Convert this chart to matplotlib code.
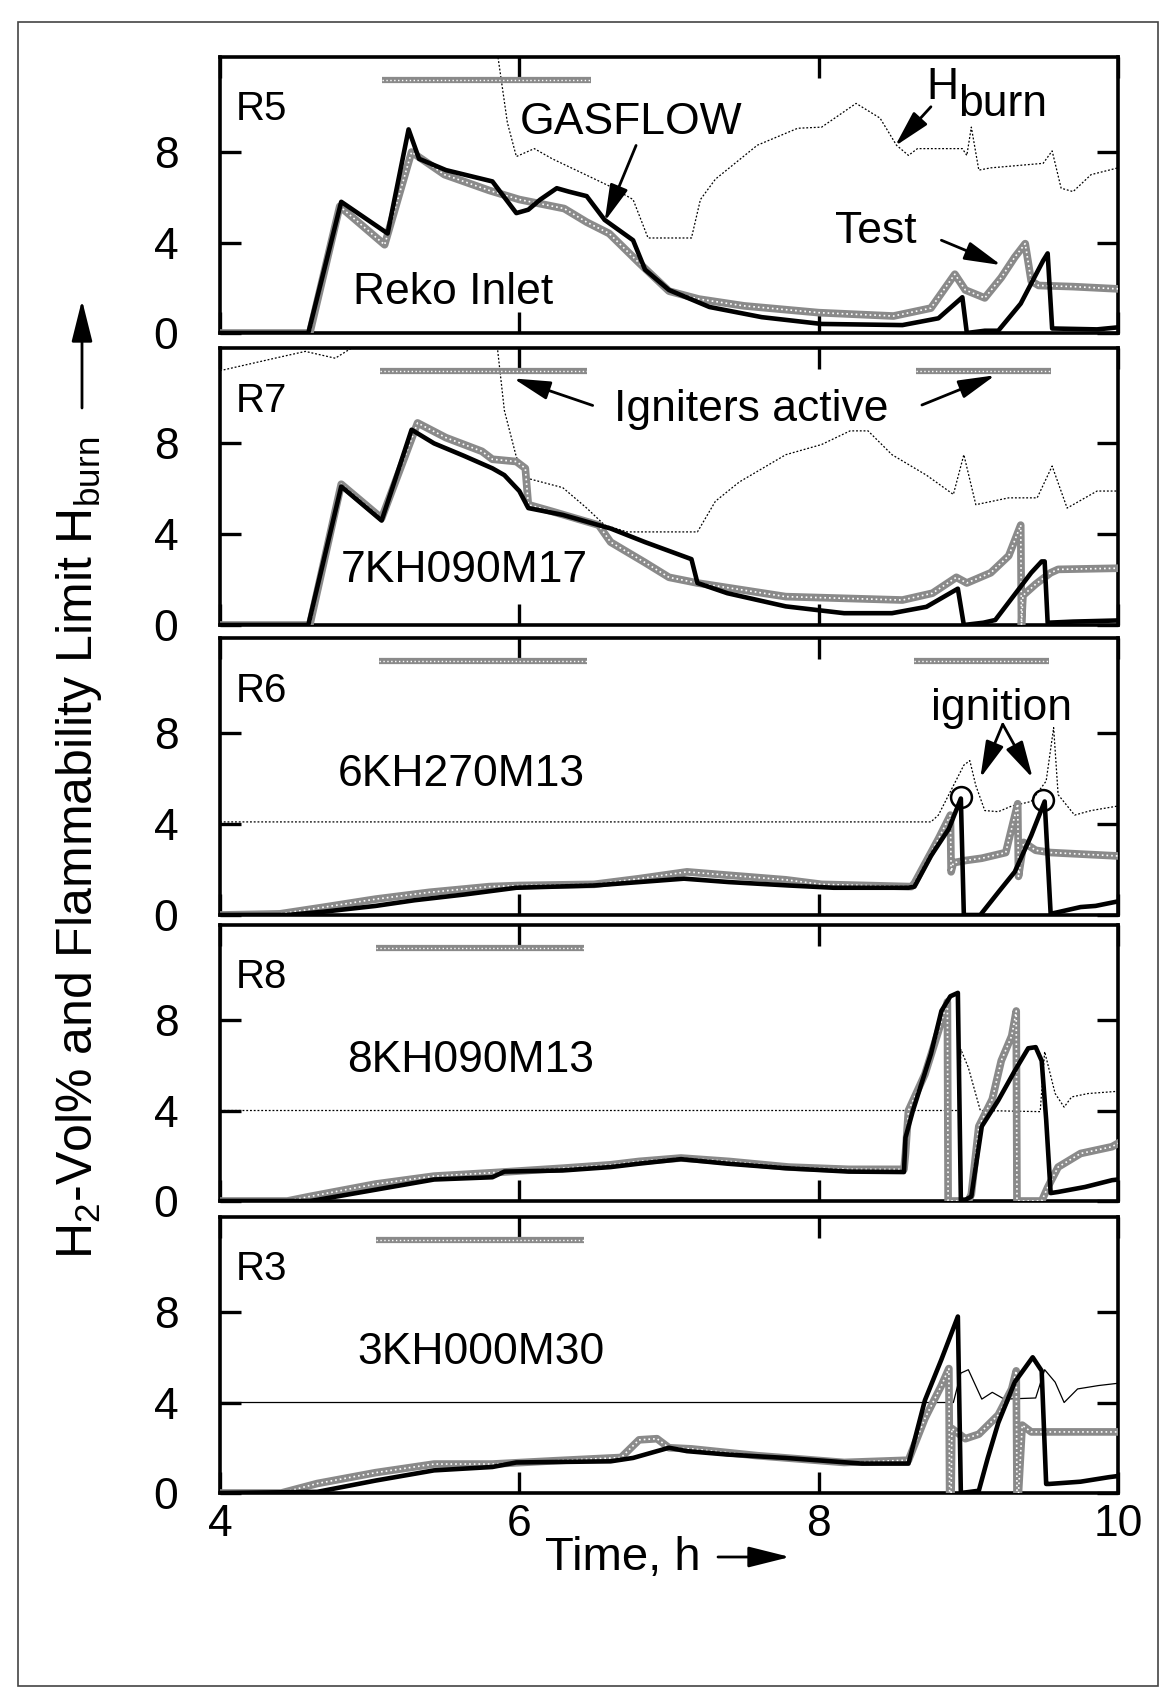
import matplotlib.pyplot as plt
from matplotlib.patches import Rectangle

plt.rcParams['font.family'] = ['Liberation Sans', 'DejaVu Sans']
plt.rcParams['mathtext.fontset'] = 'custom'
plt.rcParams['mathtext.rm'] = 'Liberation Sans'

# --- data (time in h, H2 vol% / flammability limit) ---
ign_y = 11.2

# R5
r5_gas_t = [4.0, 4.59, 4.81, 5.12, 5.26, 5.33, 5.51, 5.82, 5.98, 6.06, 6.14, 6.25, 6.33, 6.45, 6.57, 6.76, 6.84,
            7.0, 7.27, 7.62, 8.02, 8.56, 8.8, 8.96, 8.99, 9.11, 9.2, 9.35, 9.5, 9.53, 9.56, 9.86, 10.0]
r5_gas_h = [0, 0, 5.8, 4.4, 9.0, 7.7, 7.2, 6.7, 5.3, 5.45, 5.9, 6.4, 6.25, 6.05, 5.0, 4.1, 2.8,
            1.9, 1.15, 0.7, 0.4, 0.35, 0.65, 1.58, 0.0, 0.1, 0.1, 1.3, 3.2, 3.52, 0.2, 0.16, 0.25]
r5_test_t = [4.0, 4.6, 4.8, 5.1, 5.28, 5.5, 5.8, 6.0, 6.3, 6.45, 6.6, 6.8, 7.0, 7.2, 7.5, 8.0, 8.5, 8.75,
             8.91, 8.98, 9.11, 9.22, 9.31, 9.38, 9.42, 9.47, 9.7, 10.0]
r5_test_h = [0, 0, 5.6, 3.9, 8.0, 7.0, 6.3, 5.9, 5.5, 4.9, 4.4, 3.1, 1.85, 1.5, 1.2, 0.9, 0.75, 1.1,
             2.6, 1.9, 1.55, 2.45, 3.35, 3.95, 2.3, 2.1, 2.05, 1.95]
r5_hb_t = [5.84, 5.92, 5.98, 6.1, 6.22, 6.41, 6.6, 6.76, 6.86, 7.15, 7.21, 7.31, 7.59, 7.86, 8.02, 8.25, 8.41,
           8.52, 8.6, 8.66, 8.96, 8.99, 9.02, 9.07, 9.15, 9.5, 9.56, 9.62, 9.7, 9.82, 10.0]
r5_hb_h = [13.0, 9.3, 7.8, 8.15, 7.7, 7.1, 6.5, 5.9, 4.2, 4.2, 5.9, 6.8, 8.3, 9.05, 9.1, 10.15, 9.5,
           8.3, 7.85, 8.15, 8.15, 7.85, 9.1, 7.2, 7.3, 7.5, 8.05, 6.4, 6.25, 7.0, 7.3]
r5_ign = [(5.08, 6.48)]

# R7
r7_gas_t = [4.0, 4.59, 4.81, 5.08, 5.28, 5.43, 5.63, 5.82, 5.9, 6.0, 6.06, 6.29, 6.61, 6.84, 7.15, 7.19, 7.39,
            7.78, 8.17, 8.49, 8.72, 8.93, 8.97, 9.1, 9.18, 9.42, 9.49, 9.51, 9.53, 9.7, 10.0]
r7_gas_h = [0, 0, 6.1, 4.6, 8.6, 8.0, 7.45, 6.9, 6.6, 5.9, 5.15, 4.85, 4.25, 3.65, 2.9, 1.85, 1.4,
            0.82, 0.52, 0.52, 0.8, 1.6, 0.0, 0.1, 0.22, 2.3, 2.8, 2.8, 0.1, 0.15, 0.2]
r7_test_t = [4.0, 4.6, 4.81, 5.08, 5.32, 5.51, 5.75, 5.82, 5.98, 6.04, 6.06, 6.22, 6.53, 6.61, 6.84, 7.0,
             7.19, 7.78, 8.56, 8.76, 8.92, 8.99, 9.15, 9.27, 9.35, 9.355, 9.365, 9.45, 9.55, 9.6, 10.0]
r7_test_h = [0, 0, 6.2, 4.7, 8.9, 8.25, 7.65, 7.3, 7.2, 6.9, 5.3, 5.0, 4.4, 3.65, 2.75, 2.1,
             1.85, 1.25, 1.1, 1.4, 2.1, 1.85, 2.3, 3.05, 4.4, 0.0, 1.3, 1.8, 2.3, 2.45, 2.5]
r7_hb_t = [4.0, 4.2, 4.4, 4.57, 4.77, 4.88, 4.92, 5.84, 5.9, 5.98, 6.06, 6.29, 6.45, 6.57, 6.72, 7.19, 7.31,
           7.47, 7.78, 8.02, 8.21, 8.33, 8.49, 8.72, 8.9, 8.97, 9.05, 9.27, 9.46, 9.56, 9.66, 9.86, 10.0]
r7_hb_h = [11.2, 11.5, 11.8, 12.05, 11.75, 12.2, 13.0, 13.0, 9.45, 7.4, 6.45, 6.05, 5.15, 4.4, 4.1, 4.1, 5.45,
           6.3, 7.5, 7.95, 8.55, 8.55, 7.5, 6.6, 5.75, 7.5, 5.3, 5.6, 5.6, 7.0, 5.15, 5.9, 5.9]
r7_ign = [(5.07, 6.45), (8.65, 9.55)]

# R6
r6_gas_t = [4.0, 4.45, 4.7, 5.04, 5.3, 5.63, 5.98, 6.5, 6.8, 7.1, 7.4, 7.8, 8.1, 8.6, 8.64, 8.75, 8.87, 8.95,
            8.97, 9.08, 9.2, 9.31, 9.42, 9.51, 9.55, 9.65, 9.75, 9.85, 10.0]
r6_gas_h = [0, 0, 0.15, 0.4, 0.65, 0.9, 1.2, 1.3, 1.45, 1.6, 1.45, 1.3, 1.2, 1.2, 1.25, 2.6, 3.8, 5.13,
            0.0, 0.0, 1.0, 1.9, 3.5, 5.0, 0.05, 0.2, 0.35, 0.4, 0.6]
r6_test_t = [4.0, 4.4, 4.7, 5.04, 5.4, 5.8, 6.0, 6.5, 6.8, 7.12, 7.4, 7.78, 8.02, 8.62, 8.64, 8.8, 8.88, 8.885,
             8.9, 8.98, 9.09, 9.25, 9.33, 9.335, 9.37, 9.45, 9.55, 10.0]
r6_test_h = [0, 0.05, 0.35, 0.7, 1.0, 1.25, 1.3, 1.35, 1.6, 1.9, 1.75, 1.55, 1.35, 1.25, 1.4, 3.35, 4.4, 1.9,
             2.3, 2.4, 2.5, 2.75, 4.9, 1.7, 3.2, 2.85, 2.75, 2.6]
r6_hb_t = [4.0, 8.75, 8.8, 8.97, 9.01, 9.05, 9.11, 9.2, 9.29, 9.42, 9.52, 9.57, 9.6, 9.71, 9.82, 10.0]
r6_hb_h = [4.1, 4.1, 4.4, 6.6, 6.8, 5.7, 4.6, 4.55, 4.8, 5.0, 5.9, 8.25, 5.3, 4.4, 4.6, 4.8]
r6_ign = [(5.06, 6.45), (8.64, 9.54)]
r6_ignition_t = [8.95, 9.5]
r6_ignition_h = [5.2, 5.05]

# R8
r8_gas_t = [4.0, 4.6, 4.65, 5.04, 5.43, 5.82, 5.9, 6.29, 6.61, 6.8, 7.08, 7.39, 7.78, 8.2, 8.57, 8.58, 8.63,
            8.75, 8.82, 8.88, 8.93, 8.95, 8.98, 9.02, 9.09, 9.2, 9.31, 9.4, 9.45, 9.49, 9.52, 9.55, 9.6, 9.78,
            9.96, 10.0]
r8_gas_h = [0, 0, 0.05, 0.5, 0.95, 1.05, 1.3, 1.35, 1.5, 1.65, 1.85, 1.65, 1.45, 1.3, 1.28, 2.8, 4.0,
            6.5, 8.4, 9.05, 9.2, 0.05, 0.05, 0.2, 3.3, 4.45, 5.75, 6.75, 6.8, 6.2, 3.6, 0.35, 0.4, 0.62,
            0.92, 0.95]
r8_test_t = [4.0, 4.45, 4.6, 5.04, 5.43, 5.82, 6.29, 6.61, 6.8, 7.08, 7.4, 7.8, 8.2, 8.57, 8.58, 8.6, 8.71,
             8.8, 8.86, 8.865, 9.0, 9.02, 9.07, 9.16, 9.22, 9.29, 9.32, 9.325, 9.49, 9.53, 9.6, 9.75, 9.96, 10.0]
r8_test_h = [0, 0, 0.2, 0.75, 1.1, 1.25, 1.45, 1.6, 1.75, 1.9, 1.75, 1.5, 1.4, 1.4, 2.1, 4.0, 5.6,
             7.5, 8.8, 0.0, 0.0, 0.3, 3.3, 4.5, 6.2, 7.3, 8.4, 0.0, 0.0, 0.6, 1.5, 2.1, 2.4, 2.55]
r8_hb_t = [4.0, 8.94, 8.95, 9.0, 9.08, 9.48, 9.51, 9.58, 9.64, 9.69, 9.8, 10.0]
r8_hb_h = [4.0, 4.0, 6.7, 5.9, 4.0, 3.95, 6.6, 4.75, 4.15, 4.6, 4.75, 4.85]
r8_ign = [(5.04, 6.43)]

# R3
r3_gas_t = [4.0, 4.65, 5.04, 5.43, 5.82, 5.98, 6.61, 6.76, 7.0, 7.12, 7.39, 7.78, 8.29, 8.6, 8.71, 8.82, 8.93,
            8.95, 9.07, 9.13, 9.2, 9.31, 9.43, 9.49, 9.52, 9.54, 9.75, 9.94, 10.0]
r3_gas_h = [0, 0.05, 0.55, 1.0, 1.15, 1.35, 1.4, 1.55, 2.0, 1.85, 1.7, 1.55, 1.3, 1.3, 4.1, 5.9, 7.8,
            0.0, 0.1, 1.55, 3.1, 4.9, 6.0, 5.4, 0.4, 0.4, 0.5, 0.7, 0.75]
r3_test_t = [4.0, 4.41, 4.65, 5.04, 5.43, 5.82, 6.22, 6.68, 6.8, 6.92, 7.0, 7.15, 7.59, 8.17, 8.6, 8.71, 8.82,
             8.87, 8.875, 8.885, 8.89, 8.98, 9.07, 9.2, 9.29, 9.32, 9.325, 9.335, 9.36, 9.42, 10.0]
r3_test_h = [0, 0, 0.42, 0.9, 1.28, 1.28, 1.42, 1.57, 2.35, 2.4, 2.0, 1.95, 1.65, 1.35, 1.45, 3.3, 4.75,
             5.5, 0.0, 0.0, 2.85, 2.4, 2.6, 3.45, 4.6, 5.4, 0.0, 0.0, 3.0, 2.7, 2.7]
r3_hb_t = [4.0, 8.9, 8.95, 9.0, 9.09, 9.16, 9.24, 9.45, 9.51, 9.58, 9.64, 9.73, 9.87, 10.0]
r3_hb_h = [4.0, 4.0, 5.3, 5.45, 4.15, 4.45, 4.15, 4.2, 5.45, 4.9, 4.0, 4.6, 4.75, 4.85]
r3_ign = [(5.04, 6.43)]

panels = [
    ('R5', r5_gas_t, r5_gas_h, r5_test_t, r5_test_h, r5_hb_t, r5_hb_h, r5_ign),
    ('R7', r7_gas_t, r7_gas_h, r7_test_t, r7_test_h, r7_hb_t, r7_hb_h, r7_ign),
    ('R6', r6_gas_t, r6_gas_h, r6_test_t, r6_test_h, r6_hb_t, r6_hb_h, r6_ign),
    ('R8', r8_gas_t, r8_gas_h, r8_test_t, r8_test_h, r8_hb_t, r8_hb_h, r8_ign),
    ('R3', r3_gas_t, r3_gas_h, r3_test_t, r3_test_h, r3_hb_t, r3_hb_h, r3_ign),
]

W, H = 1171, 1693
fig = plt.figure(figsize=(W / 100, H / 100), dpi=100)

# page frame of the scan
fig.add_artist(Rectangle((18 / W, 1 - 1686 / H), 1140 / W, 1664 / H, transform=fig.transFigure,
                         fill=False, lw=1.2, ec='#444444'))

# panel extents in pixels (top, bottom)
rows = [(57, 333), (348, 625), (638, 915), (925, 1201), (1217, 1493)]
left, right = 220, 1118

gray = '#8a8a8a'
axes = []
for (top, bot), (name, gt, gh, tt, th, ht, hh, ign) in zip(rows, panels):
    ax = fig.add_axes([left / W, 1 - bot / H, (right - left) / W, (bot - top) / H])
    axes.append(ax)
    hb_ls = '-' if name == 'R3' else (0, (1.5, 1.5))
    ax.plot(ht, hh, color='k', lw=0.9, ls=hb_ls, zorder=2)
    ax.plot(tt, th, color=gray, lw=5.5, zorder=3)
    ax.plot(tt, th, color='white', lw=1.2, ls=(0, (1, 1.8)), zorder=3.5)
    ax.plot(gt, gh, color='k', lw=3.3, zorder=4)
    for a, b in ign:
        ax.plot([a, b], [ign_y, ign_y], color=gray, lw=4.5, solid_capstyle='butt', zorder=3)
        ax.plot([a, b], [ign_y, ign_y], color='white', lw=1.0, ls=(0, (1, 1.8)), zorder=3.5)

    ax.set_xlim(4, 10)
    ax.set_ylim(0, 12.2)
    ax.set_xticks([4, 6, 8, 10])
    ax.set_yticks([0, 4, 8])
    ax.tick_params(direction='in', length=15, width=2.4, top=True, right=True,
                   labelsize=32, color='k')
    ax.tick_params(axis='y', pad=30)
    ax.tick_params(axis='x', pad=8)
    for s in ax.spines.values():
        s.set_linewidth(2.6)
    if name != 'R3':
        ax.tick_params(labelbottom=False)
    ax.text(0.018, 0.77, name, transform=ax.transAxes, fontsize=29, va='baseline', ha='left')

ax5, ax7, ax6, ax8, ax3 = axes

arrow = dict(arrowstyle='-|>,head_length=1.5,head_width=0.38', lw=2.0, color='k', mutation_scale=15,
             shrinkA=0, shrinkB=0)
fs = 32

# R5 annotations
ax5.text(6.0, 8.8, 'GASFLOW', fontsize=fs, va='baseline')
ax5.annotate('', xy=(6.57, 4.93), xytext=(6.78, 8.29), arrowprops=arrow)
ax5.text(8.72, 10.36, 'H', fontsize=fs, va='baseline')
ax5.text(8.93, 9.6, 'burn', fontsize=fs, va='baseline')
ax5.annotate('', xy=(8.51, 8.26), xytext=(8.75, 10.0), arrowprops=arrow)
ax5.text(8.11, 4.0, 'Test', fontsize=fs, va='baseline')
ax5.annotate('', xy=(9.22, 3.0), xytext=(8.82, 4.1), arrowprops=arrow)
ax5.text(4.89, 1.3, 'Reko Inlet', fontsize=fs, va='baseline')

# R7 annotations
ax7.text(6.63, 9.0, 'Igniters active', fontsize=fs, va='baseline')
ax7.annotate('', xy=(5.96, 10.86), xytext=(6.49, 9.67), arrowprops=arrow)
ax7.annotate('', xy=(9.18, 11.0), xytext=(8.69, 9.69), arrowprops=arrow)
ax7.text(4.81, 1.9, '7KH090M17', fontsize=fs, va='baseline')

# R6 annotations
ax6.text(4.79, 5.67, '6KH270M13', fontsize=fs, va='baseline')
ax6.text(8.75, 8.6, 'ignition', fontsize=fs, va='baseline')
ax6.annotate('', xy=(9.08, 6.03), xytext=(9.23, 8.4), arrowprops=arrow)
ax6.annotate('', xy=(9.43, 6.03), xytext=(9.23, 8.4), arrowprops=arrow)
ax6.plot(r6_ignition_t, r6_ignition_h, 'o', mfc='none', mec='k', ms=15, mew=1.8, zorder=5)

ax8.text(4.85, 5.7, '8KH090M13', fontsize=fs, va='baseline')
ax3.text(4.92, 5.7, '3KH000M30', fontsize=fs, va='baseline')

# axis labels
fig.text(545 / W, 1 - 1570 / H, 'Time, h', fontsize=34, va='baseline', ha='left')
fig_arrow = dict(arrowstyle='-|>,head_length=1.6,head_width=0.4', lw=2.0, color='k', mutation_scale=16,
                 shrinkA=0, shrinkB=0)
ax3.annotate('', xy=(790 / W, 1 - 1557 / H), xytext=(718 / W, 1 - 1557 / H),
             xycoords='figure fraction', textcoords='figure fraction', arrowprops=fig_arrow,
             annotation_clip=False)
fig.text(79 / W, 1 - 848 / H, r'H$_2$-Vol% and Flammability Limit H$_{\mathrm{burn}}$',
         fontsize=36, rotation=90, ha='center', va='center')
ax3.annotate('', xy=(82 / W, 1 - 300 / H), xytext=(82 / W, 1 - 408 / H),
             xycoords='figure fraction', textcoords='figure fraction', arrowprops=fig_arrow,
             annotation_clip=False)

plt.savefig('out.png', dpi=100)
